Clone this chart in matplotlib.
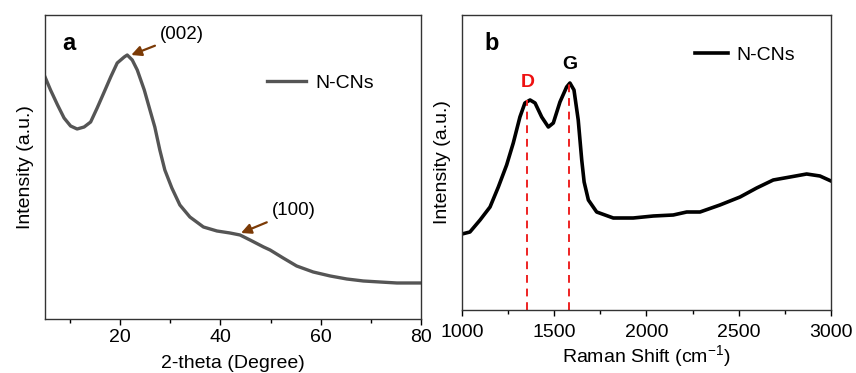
import numpy as np
import matplotlib
matplotlib.use("Agg")
import matplotlib.pyplot as plt
from matplotlib.ticker import MultipleLocator

plt.rcParams['font.family'] = ['Liberation Sans', 'DejaVu Sans']

# panel a: XRD pattern (2-theta, intensity a.u.)
xrd_theta = [5.0, 6.1, 7.5, 8.8, 10.1, 11.4, 12.8, 14.1, 15.4, 16.8, 18.1, 19.4, 20.8,
             21.4, 22.4, 23.4, 24.8, 26.1, 26.9, 27.9, 28.9, 30.3, 31.9, 33.9, 36.6,
             39.3, 41.9, 43.9, 45.9, 48.6, 49.9, 52.5, 55.2, 58.5, 61.9, 65.2, 68.5,
             71.8, 75.2, 80.0]
xrd_int = [242, 229, 214, 201, 193, 190, 192, 197, 211, 227, 242, 256, 262,
           264, 259, 249, 229, 206, 192, 169, 149, 131, 114, 102, 92,
           88, 86, 84, 79, 72, 69, 61, 53, 47, 43, 40, 38,
           37, 36, 36]

# panel b: Raman spectrum (shift cm-1, intensity a.u.)
raman_x = [1000, 1043, 1098, 1152, 1197, 1242, 1278, 1314, 1341, 1369, 1396, 1432,
           1468, 1495, 1531, 1567, 1585, 1607, 1630, 1649, 1662, 1685, 1730, 1820,
           1928, 2037, 2145, 2218, 2290, 2398, 2507, 2597, 2687, 2778, 2868, 2940, 3000]
raman_int = [76, 78, 90, 103, 123, 145, 167, 193, 207, 210, 207, 193,
             183, 187, 208, 223, 227, 220, 190, 150, 128, 110, 98, 92,
             92, 94, 95, 98, 98, 105, 113, 122, 130, 133, 136, 134, 129]
d_band, d_top = 1353, 210
g_band, g_top = 1579, 227

fig = plt.figure(figsize=(8.56, 3.73), dpi=100)

# ---- panel a
ax1 = fig.add_axes([0.0526, 0.1448, 0.4392, 0.815])
ax1.plot(xrd_theta, xrd_int, color='#555555', lw=2.4, label='N-CNs')
ax1.set_xlim(5, 80)
ax1.set_ylim(0, 304)
ax1.xaxis.set_major_locator(MultipleLocator(20))
ax1.xaxis.set_minor_locator(MultipleLocator(10))
ax1.set_yticks([])
ax1.tick_params(axis='x', which='major', direction='out', length=4, width=1, labelsize=14, pad=3)
ax1.tick_params(axis='x', which='minor', direction='out', length=3, width=1)
ax1.set_xlabel('2-theta (Degree)', fontsize=14, labelpad=7)
ax1.set_ylabel('Intensity (a.u.)', fontsize=14, labelpad=8)
ax1.text(0.045, 0.905, 'a', transform=ax1.transAxes, fontsize=17, fontweight='bold', va='center')
ax1.annotate('(002)', xy=(22.2, 264), xytext=(28.0, 284), fontsize=13.5, va='center',
             arrowprops=dict(arrowstyle='-|>', color='#7b3a06', lw=1.6, mutation_scale=15,
                             shrinkA=2, shrinkB=0))
ax1.annotate('(100)', xy=(44.1, 86), xytext=(50.3, 108), fontsize=13.5, va='center',
             arrowprops=dict(arrowstyle='-|>', color='#7b3a06', lw=1.6, mutation_scale=15,
                             shrinkA=2, shrinkB=0))
ax1.legend(loc='upper left', bbox_to_anchor=(0.57, 0.83), frameon=False, fontsize=14,
           handlelength=2.0, handletextpad=0.5, borderaxespad=0)

# ---- panel b
ax2 = fig.add_axes([0.5397, 0.1689, 0.4311, 0.7909])
ax2.plot(raman_x, raman_int, color='black', lw=2.6, label='N-CNs')
ax2.set_xlim(1000, 3000)
ax2.set_ylim(0, 295)
for xb, yb in [(d_band, d_top), (g_band, g_top)]:
    ax2.plot([xb, xb], [0, yb], color='#ee2222', lw=1.4, ls=(0, (4, 3)))
ax2.text(1358, 227, 'D', color='#ee1111', fontsize=14, fontweight='bold', ha='center', va='center')
ax2.text(1585, 245, 'G', color='black', fontsize=14, fontweight='bold', ha='center', va='center')
ax2.xaxis.set_major_locator(MultipleLocator(500))
ax2.xaxis.set_minor_locator(MultipleLocator(250))
ax2.set_yticks([])
ax2.tick_params(axis='x', which='major', direction='out', length=4, width=1, labelsize=14, pad=6)
ax2.tick_params(axis='x', which='minor', direction='out', length=3, width=1)
ax2.set_xlabel('Raman Shift (cm$^{\\mathregular{-1}}$)', fontsize=14, labelpad=2)
ax2.set_ylabel('Intensity (a.u.)', fontsize=14, labelpad=8)
ax2.text(0.06, 0.905, 'b', transform=ax2.transAxes, fontsize=17, fontweight='bold', va='center')
ax2.legend(loc='upper left', bbox_to_anchor=(0.61, 0.92), frameon=False, fontsize=14,
           handlelength=1.7, handletextpad=0.45, borderaxespad=0)

for ax in (ax1, ax2):
    for s in ax.spines.values():
        s.set_color('#333333')
        s.set_linewidth(1.0)

fig.savefig('out.png', dpi=100)
